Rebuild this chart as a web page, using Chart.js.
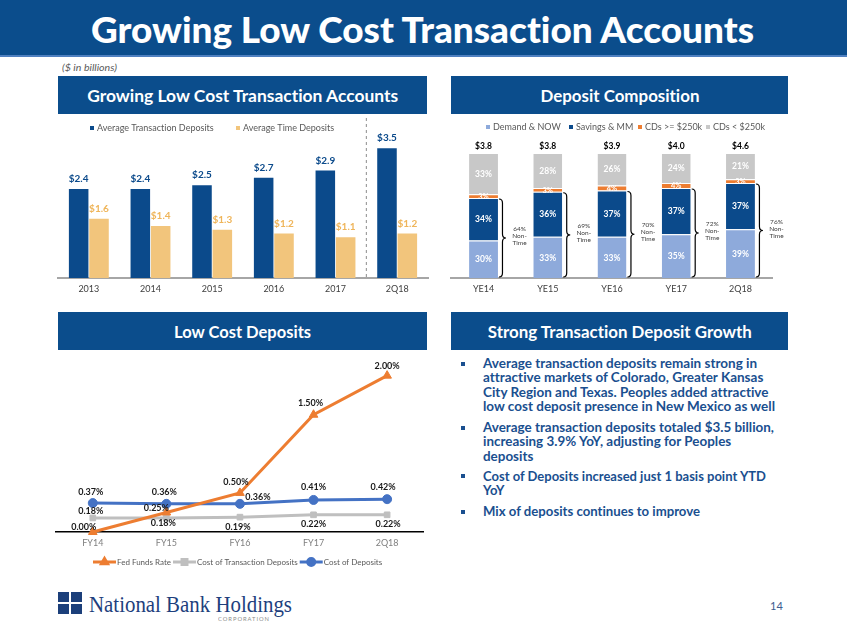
<!DOCTYPE html>
<html><head><meta charset="utf-8">
<script src="https://cdn.jsdelivr.net/npm/chart.js@4.4.1/dist/chart.umd.min.js"></script>
<style>
html,body{margin:0;padding:0;background:#fff;}
body{width:847px;height:635px;position:relative;overflow:hidden;font-family:Lato,'Open Sans',sans-serif;font-variant-ligatures:none;}
.abs{position:absolute;}
.t{position:absolute;white-space:nowrap;line-height:1;transform-origin:0 0;}
.hdr{position:absolute;background:#0b4d8c;display:flex;align-items:center;justify-content:center;}
.hdr span{color:#fff;font-weight:700;font-size:17px;white-space:nowrap;line-height:1;display:inline-block;transform-origin:50% 50%;}
.cv{position:absolute;}
.bl{font-size:13px;font-weight:700;color:#1a4f8f;line-height:14.3px;}
.sq{position:absolute;width:4px;height:4px;background:#1a4f8f;}
.lg{position:absolute;background:#1c3f7a;width:11px;height:10px;}
</style></head><body>
<div class="abs" style="left:0;top:0;width:847px;height:55px;background:#0b4d8c;border-bottom:2px solid #4f80c0;"></div>
<div class="t" data-w="663" style="left:91px;top:11px;font-size:36px;font-weight:900;color:#fff;">Growing Low Cost Transaction Accounts</div>
<div class="t" data-w="55" style="left:62px;top:63px;font-size:9px;font-style:italic;color:#595959;">($ in billions)</div>

<div class="hdr" style="left:58px;top:76px;width:369px;height:38px;"><span data-w="311">Growing Low Cost Transaction Accounts</span></div>
<div class="hdr" style="left:451px;top:76px;width:337px;height:38px;"><span data-w="159">Deposit Composition</span></div>
<div class="hdr" style="left:58px;top:312px;width:369px;height:38px;"><span data-w="137">Low Cost Deposits</span></div>
<div class="hdr" style="left:451px;top:312px;width:337px;height:38px;"><span data-w="264">Strong Transaction Deposit Growth</span></div>

<canvas id="c1" class="cv" width="380" height="188" style="left:50px;top:112px"></canvas>
<canvas id="c2" class="cv" width="400" height="188" style="left:440px;top:112px"></canvas>
<canvas id="c3" class="cv" width="380" height="223" style="left:50px;top:352px"></canvas>

<div class="sq" style="left:461px;top:362px"></div>
<div class="t bl" data-w="292" style="left:483px;top:356px">Average transaction deposits remain strong in<br>attractive markets of Colorado, Greater Kansas<br>City Region and Texas. Peoples added attractive<br>low cost deposit presence in New Mexico as well</div>
<div class="sq" style="left:461px;top:426px"></div>
<div class="t bl" data-w="291" style="left:483px;top:420px">Average transaction deposits totaled $3.5 billion,<br>increasing 3.9% YoY, adjusting for Peoples<br>deposits</div>
<div class="sq" style="left:461px;top:474px"></div>
<div class="t bl" data-w="283" style="left:483px;top:469px">Cost of Deposits increased just 1 basis point YTD<br>YoY</div>
<div class="sq" style="left:461px;top:510px"></div>
<div class="t bl" data-w="217" style="left:483px;top:504px">Mix of deposits continues to improve</div>

<div class="lg" style="left:58px;top:592px"></div>
<div class="lg" style="left:71px;top:592px"></div>
<div class="lg" style="left:58px;top:604px"></div>
<div class="lg" style="left:71px;top:604px"></div>
<div class="t" data-w="203" style="left:89px;top:593px;font-family:'Liberation Serif',serif;font-size:23px;color:#1e3f7d;">National Bank Holdings</div>
<div class="t" data-w="52" style="left:218px;top:616px;font-size:6px;letter-spacing:1px;color:#8c8c8c;">CORPORATION</div>
<div class="t" style="left:770px;top:600px;font-size:11px;color:#3d5d8f;">14</div>

<script>
// ---------- DATA ----------
const barYears = ['2013', '2014', '2015', '2016', '2017', '2Q18'];
const avgTransaction = [2.4, 2.4, 2.5, 2.7, 2.9, 3.5];
const avgTime = [1.6, 1.4, 1.3, 1.2, 1.1, 1.2];

const compPeriods = ['YE14', 'YE15', 'YE16', 'YE17', '2Q18'];
const demandNow = [30, 33, 33, 35, 39];
const savingsMM = [34, 36, 37, 37, 37];
const cdsLarge = [3, 3, 4, 4, 3];
const cdsSmall = [33, 28, 26, 24, 21];
const compTotals = [3.8, 3.8, 3.9, 4.0, 4.6];
const nonTime = [64, 69, 70, 72, 76];

const costPeriods = ['FY14', 'FY15', 'FY16', 'FY17', '2Q18'];
const fedFunds = [0.00, 0.25, 0.50, 1.50, 2.00];
const costTransaction = [0.18, 0.18, 0.19, 0.22, 0.22];
const costDeposits = [0.37, 0.36, 0.36, 0.41, 0.42];

// ---------- text fitting ----------
document.querySelectorAll('[data-w]').forEach(el => {
  const w = el.getBoundingClientRect().width;
  if (w > 0) el.style.transform = 'scaleX(' + (parseFloat(el.dataset.w) / w) + ')';
});

// ---------- Chart setup ----------
const FONT = "Lato, 'Open Sans', sans-serif";
Chart.defaults.font.family = FONT;
Chart.defaults.animation = false;
Chart.defaults.plugins.legend.display = false;
Chart.defaults.plugins.tooltip.enabled = false;

const C = {
  navy: '#0b4a8b', gold: '#f2c57c', goldText: '#efb55a',
  light: '#8eaadb', orange: '#ed7d31', grey: '#c8c8c8',
  lineGrey: '#bfbfbf', lineBlue: '#4472c4'
};

function boxLegend(cfg) {
  return {
    id: 'boxLegend',
    afterDraw(chart) {
      const ctx = chart.ctx;
      ctx.save();
      ctx.font = cfg.font;
      ctx.textBaseline = 'middle';
      chart.data.datasets.forEach((ds, i) => {
        const x = cfg.xs[i];
        ctx.fillStyle = ds.backgroundColor;
        ctx.fillRect(x, cfg.y - 2, 4, 4);
        ctx.fillStyle = cfg.color;
        ctx.fillText(ds.label, x + 7, cfg.y);
      });
      ctx.restore();
    }
  };
}

// Chart 1 : Average deposits
new Chart(document.getElementById('c1'), {
  type: 'bar',
  data: {
    labels: barYears,
    datasets: [
      { label: 'Average Transaction Deposits', data: avgTransaction, backgroundColor: C.navy, categoryPercentage: 0.66, barPercentage: 0.96 },
      { label: 'Average Time Deposits', data: avgTime, backgroundColor: C.gold, categoryPercentage: 0.66, barPercentage: 0.96 }
    ]
  },
  options: {
    responsive: false, devicePixelRatio: 1,
    layout: { padding: { left: 8, right: 2, top: 17.6, bottom: 0 } },
    scales: {
      x: {
        grid: { display: false, drawTicks: false },
        border: { display: true, color: '#a6a6a6', width: 2 },
        ticks: { color: '#404040', font: { size: 9 }, padding: 6 },
        afterFit(s) { s.height = 22; }
      },
      y: { display: false, min: 0, max: 4 }
    }
  },
  plugins: [
    boxLegend({ xs: [40, 186], y: 16, font: '9px ' + FONT, color: '#595959' }),
    {
      id: 'c1extra',
      beforeDatasetsDraw(chart) {
        const ctx = chart.ctx, xs = chart.scales.x;
        const x = (xs.getPixelForTick(4) + xs.getPixelForTick(5)) / 2;
        ctx.save();
        ctx.strokeStyle = '#8c8c8c'; ctx.lineWidth = 1; ctx.setLineDash([3, 3]);
        ctx.beginPath(); ctx.moveTo(x, 6); ctx.lineTo(x, chart.chartArea.bottom); ctx.stroke();
        ctx.restore();
      },
      afterDatasetsDraw(chart) {
        const ctx = chart.ctx;
        ctx.save();
        ctx.textAlign = 'center'; ctx.textBaseline = 'middle';
        const cols = [C.navy, C.goldText];
        chart.data.datasets.forEach((ds, di) => {
          ctx.fillStyle = cols[di];
          ctx.font = 'bold 10px ' + FONT;
          chart.getDatasetMeta(di).data.forEach((el, j) => {
            ctx.fillText('$' + ds.data[j].toFixed(1), el.x, el.y - 10);
          });
        });
        ctx.restore();
      }
    }
  ]
});

// Chart 2 : Deposit composition
new Chart(document.getElementById('c2'), {
  type: 'bar',
  data: {
    labels: compPeriods,
    datasets: [
      { label: 'Demand & NOW', data: demandNow, backgroundColor: C.light },
      { label: 'Savings & MM', data: savingsMM, backgroundColor: C.navy },
      { label: 'CDs >= $250k', data: cdsLarge, backgroundColor: C.orange },
      { label: 'CDs < $250k', data: cdsSmall, backgroundColor: C.grey }
    ].map(d => Object.assign(d, { categoryPercentage: 0.9, barPercentage: 0.5, borderColor: '#ffffff', borderWidth: { top: 1, left: 0, right: 0, bottom: 0 }, borderSkipped: 'start' }))
  },
  options: {
    responsive: false, devicePixelRatio: 1,
    layout: { padding: { left: 11.4, right: 67.4, top: 41, bottom: 0 } },
    scales: {
      x: {
        stacked: true,
        grid: { display: false, drawTicks: false },
        border: { display: true, color: '#a6a6a6', width: 2 },
        ticks: { color: '#404040', font: { size: 9 }, padding: 6 },
        afterFit(s) { s.height = 22; }
      },
      y: { display: false, stacked: true, min: 0, max: 100 }
    }
  },
  plugins: [
    boxLegend({ xs: [46, 129, 198, 266], y: 15, font: '9px ' + FONT, color: '#595959' }),
    {
      id: 'c2extra',
      afterDatasetsDraw(chart) {
        const ctx = chart.ctx;
        ctx.save();
        ctx.textAlign = 'center'; ctx.textBaseline = 'middle';
        chart.data.datasets.forEach((ds, di) => {
          ctx.fillStyle = '#ffffff';
          ctx.font = 'bold ' + (di === 2 ? 7.5 : 8.5) + 'px ' + FONT;
          chart.getDatasetMeta(di).data.forEach((el, j) => {
            ctx.fillText(ds.data[j] + '%', el.x, (el.y + el.base) / 2 + 0.5);
          });
        });
        // totals
        ctx.fillStyle = '#000';
        ctx.font = 'bold 8.5px ' + FONT;
        const top = chart.getDatasetMeta(3).data;
        top.forEach((el, j) => ctx.fillText('$' + compTotals[j].toFixed(1), el.x, el.y - 7));
        // braces
        const base = chart.scales.y.getPixelForValue(0);
        const sav = chart.getDatasetMeta(1).data;
        sav.forEach((el, j) => {
          const x0 = el.x + el.width / 2 + 1;
          const y0 = el.y + 1, y1 = base - 1, ym = (y0 + y1) / 2, w = 3.5;
          ctx.strokeStyle = '#000'; ctx.lineWidth = 1.2;
          ctx.beginPath();
          ctx.moveTo(x0, y0);
          ctx.quadraticCurveTo(x0 + w, y0, x0 + w, y0 + 4);
          ctx.lineTo(x0 + w, ym - 4);
          ctx.quadraticCurveTo(x0 + w, ym, x0 + 2 * w, ym);
          ctx.quadraticCurveTo(x0 + w, ym, x0 + w, ym + 4);
          ctx.lineTo(x0 + w, y1 - 4);
          ctx.quadraticCurveTo(x0 + w, y1, x0, y1);
          ctx.stroke();
          ctx.fillStyle = '#404040';
          ctx.font = '6.5px ' + FONT;
          const tx = el.x + 36;
          ctx.fillText(nonTime[j] + '%', tx, ym - 9);
          ctx.fillText('Non-', tx, ym - 2);
          ctx.fillText('Time', tx, ym + 5);
        });
        ctx.restore();
      }
    }
  ]
});

// Chart 3 : Low cost deposits
const offs = [
  [[-9, -5], [-10, -4], [-4, -11], [-3, -12], [0, -10]],
  [[-2, -7], [-3, 5], [-2, 10], [0, 9], [1, 9]],
  [[-2, -11], [-2, -12], [18, -7], [0, -13], [-4, -12]]
];
new Chart(document.getElementById('c3'), {
  type: 'line',
  data: {
    labels: costPeriods,
    datasets: [
      { label: 'Fed Funds Rate', data: fedFunds, borderColor: C.orange, backgroundColor: C.orange, pointStyle: 'triangle', pointRadius: 5, borderWidth: 3 },
      { label: 'Cost of Transaction Deposits', data: costTransaction, borderColor: C.lineGrey, backgroundColor: C.lineGrey, pointStyle: 'rect', pointRadius: 4, borderWidth: 3 },
      { label: 'Cost of Deposits', data: costDeposits, borderColor: C.lineBlue, backgroundColor: C.lineBlue, pointStyle: 'circle', pointRadius: 4.5, borderWidth: 3 }
    ].map(d => Object.assign(d, { fill: false, tension: 0, clip: false, pointBorderWidth: 1 }))
  },
  options: {
    responsive: false, devicePixelRatio: 1,
    layout: { padding: { left: 5.1, right: 6.1, top: 8, bottom: 23 } },
    scales: {
      x: {
        offset: true,
        grid: { display: false, drawTicks: false },
        border: { display: true, color: '#000', width: 1.5 },
        ticks: { color: '#7f7f7f', font: { size: 9 }, padding: 6 },
        afterFit(s) { s.height = 20; }
      },
      y: { display: false, min: 0, max: 2.2 }
    }
  },
  plugins: [{
    id: 'c3extra',
    afterDatasetsDraw(chart) {
      const ctx = chart.ctx;
      ctx.save();
      ctx.textAlign = 'center'; ctx.textBaseline = 'middle';
      ctx.fillStyle = '#1a1a1a';
      ctx.font = 'bold 9px ' + FONT;
      chart.data.datasets.forEach((ds, di) => {
        chart.getDatasetMeta(di).data.forEach((el, j) => {
          const o = offs[di][j];
          ctx.fillText(ds.data[j].toFixed(2) + '%', el.x + o[0], el.y + o[1]);
        });
      });
      ctx.restore();
    },
    afterDraw(chart) {
      const ctx = chart.ctx;
      const y = 210;
      let x = 43;
      ctx.save();
      ctx.textBaseline = 'middle';
      ctx.font = '8px ' + FONT;
      chart.data.datasets.forEach((ds, i) => {
        const len = 23;
        ctx.strokeStyle = ds.borderColor; ctx.lineWidth = 3;
        ctx.beginPath(); ctx.moveTo(x, y); ctx.lineTo(x + len, y); ctx.stroke();
        ctx.fillStyle = ds.backgroundColor;
        Chart.helpers.drawPoint(ctx, { pointStyle: ds.pointStyle, radius: 3.5, rotation: 0, borderWidth: 1 }, x + len / 2, y);
        ctx.fillStyle = '#595959';
        ctx.fillText(ds.label, x + len + 1, y);
        x += len + 1 + ctx.measureText(ds.label).width + 2;
      });
      ctx.restore();
    }
  }]
});
</script>
</body></html>
